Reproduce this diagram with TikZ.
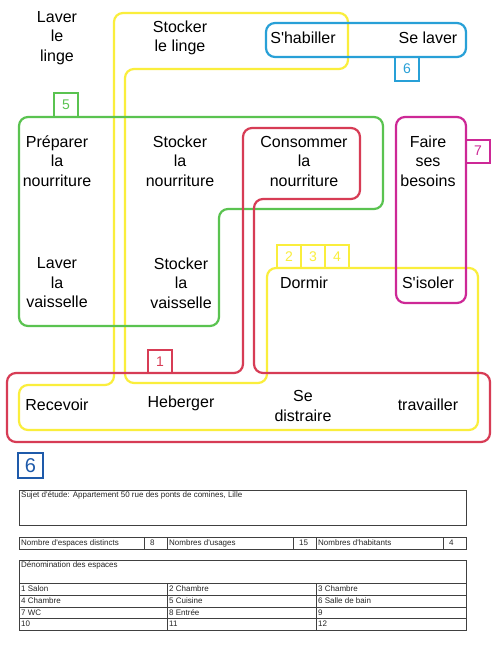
\documentclass[tikz,border=0pt]{standalone}
\usepackage{fontspec}
\setmainfont{Liberation Sans}
\definecolor{yel}{RGB}{250,238,60}
\definecolor{grn}{RGB}{90,195,80}
\definecolor{rd}{RGB}{215,60,85}
\definecolor{blu}{RGB}{40,160,215}
\definecolor{mag}{RGB}{205,40,150}
\definecolor{dblu}{RGB}{30,90,170}
\newcommand{\ap}{\textquotesingle}
\begin{document}
\begin{tikzpicture}[x=1pt,y=-1pt,
  shp/.style={line width=2.2pt,rounded corners=9pt},
  lab/.style={draw,line width=2pt,minimum width=24pt,minimum height=24pt,inner sep=0pt,font=\fontsize{14}{14}\selectfont},
  txt/.style={font=\fontsize{16}{19.5}\selectfont,align=center,inner sep=0pt},
  tab/.style={draw=black!75,line width=0.9pt},
  tt/.style={font=\fontsize{8}{9}\selectfont,inner sep=0pt,anchor=west,text=black!85}]
\useasboundingbox (0,0) rectangle (500,646);
\fill[white] (0,0) rectangle (500,646);

% groups
\draw[shp,yel] (114,13) -- (348,13) -- (348,69) -- (125,69) -- (125,383) -- (267,383) -- (267,268) -- (478,268) -- (478,430) -- (19,430) -- (19,385) -- (114,385) -- cycle;
\draw[shp,grn] (19,117) -- (383,117) -- (383,209) -- (219,209) -- (219,326) -- (19,326) -- cycle;
\draw[shp,rd] (7,373) -- (243,373) -- (243,128) -- (360,128) -- (360,199) -- (254,199) -- (254,373) -- (490,373) -- (490,442) -- (7,442) -- cycle;
\draw[shp,blu] (266,23) rectangle (466,57);
\draw[shp,mag] (396,117) rectangle (466,303);

% labels
\node[lab,draw=grn,text=grn] (l5) at (66,105) {5};
\node[lab,draw=blu,text=blu] (l6) at (407,69) {6};
\node[lab,draw=mag,text=mag,minimum height=23pt] (l7) at (478,151) {7};
\node[lab,draw=rd,text=rd,minimum height=23pt] (l1) at (160,361.5) {1};
\node[lab,draw=yel,text=yel,minimum height=23pt] (l2) at (289,256.5) {2};
\node[lab,draw=yel,text=yel,minimum height=23pt] (l3) at (313,256.5) {3};
\node[lab,draw=yel,text=yel,minimum height=23pt] (l4) at (337,256.5) {4};

% texts
\node[txt] (lavlinge) at (57,38) {Laver\\le\\linge};
\node[txt] (stolinge) at (180,38) {Stocker\\le linge};
\node[txt] (habiller) at (303,38) {S\ap habiller};
\node[txt] (selaver) at (428,38) {Se laver};
\node[txt] (prep) at (57,161) {Préparer\\la\\nourriture};
\node[txt] (stonour) at (180,161) {Stocker\\la\\nourriture};
\node[txt] (conso) at (304,161) {Consommer\\la\\nourriture};
\node[txt] (besoins) at (428,161) {Faire\\ses\\besoins};
\node[txt] (lavvais) at (57,283) {Laver\\la\\vaisselle};
\node[txt] (stovais) at (181,283) {Stocker\\la\\vaisselle};
\node[txt] (dormir) at (304,283) {Dormir};
\node[txt] (isoler) at (428,283) {S\ap isoler};
\node[txt] (recevoir) at (57,405) {Recevoir};
\node[txt] (heberger) at (181,403) {Heberger};
\node[txt] (distraire) at (303,406) {Se\\distraire};
\node[txt] (travailler) at (428,405) {travailler};

% bottom 6
\node[draw=dblu,text=dblu,line width=2.5pt,minimum width=25pt,minimum height=25pt,inner sep=0pt,font=\fontsize{20}{20}\selectfont] (b6) at (30.5,465.5) {6};

% tables
\draw[tab] (19,490) rectangle (466,525);
\node[tt] (sujet) at (21,495) {Sujet d\ap étude: Appartement 50 rue des ponts de comines, Lille};

\draw[tab] (19,537) rectangle (466,549);
\foreach \xx in {144,167,293,316,443} \draw[tab] (\xx,537) -- (\xx,549);
\node[tt] (nesp) at (21,543) {Nombre d\ap espaces distincts};
\node[tt] (v8) at (150,543) {8};
\node[tt] (nus) at (169,543) {Nombres d\ap usages};
\node[tt] (v15) at (299,543) {15};
\node[tt] (nhab) at (318,543) {Nombres d\ap habitants};
\node[tt] (v4) at (449,543) {4};

\draw[tab] (19,560) rectangle (466,630);
\foreach \yy in {583,595,607,618} \draw[tab] (19,\yy) -- (466,\yy);
\foreach \xx in {167,316} \draw[tab] (\xx,583) -- (\xx,630);
\node[tt] (denom) at (21,565) {Dénomination des espaces};
\node[tt] (e1) at (21,589) {1 Salon};
\node[tt] (e2) at (169,589) {2 Chambre};
\node[tt] (e3) at (318,589) {3 Chambre};
\node[tt] (e4) at (21,601) {4 Chambre};
\node[tt] (e5) at (169,601) {5 Cuisine};
\node[tt] (e6) at (318,601) {6 Salle de bain};
\node[tt] (e7) at (21,613) {7 WC};
\node[tt] (e8) at (169,613) {8 Entrée};
\node[tt] (e9) at (318,613) {9};
\node[tt] (e10) at (21,624) {10};
\node[tt] (e11) at (169,624) {11};
\node[tt] (e12) at (318,624) {12};
\end{tikzpicture}
\end{document}
